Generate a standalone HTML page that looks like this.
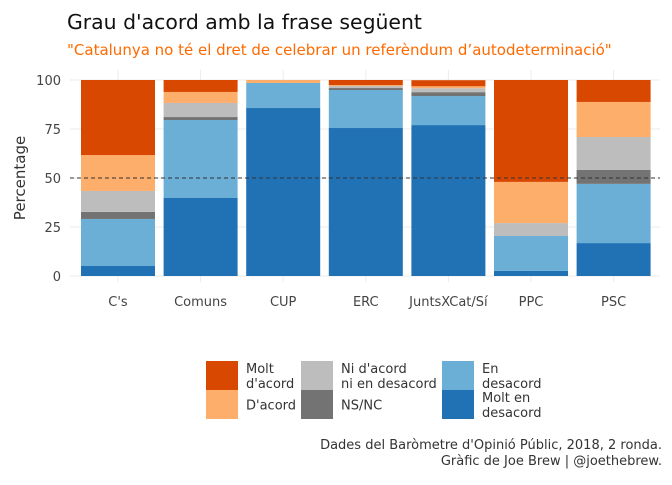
<!DOCTYPE html>
<html><head><meta charset="utf-8"><style>
body{margin:0;background:#fff}
svg text{font-family:"DejaVu Sans","Liberation Sans",sans-serif}
</style></head><body>
<svg id="chart" width="672" height="480" viewBox="0 0 672 480">
<text x="67" y="29" font-size="20.4" fill="#111">Grau d'acord amb la frase següent</text>
<text x="67" y="55" font-size="15" fill="#ff6a00">"Catalunya no té el dret de celebrar un referèndum d’autodeterminació"</text>
<g id="grid"></g>
<g id="bars"></g>
<line x1="70" x2="660" y1="178" y2="178" stroke="#333" stroke-dasharray="4,3" stroke-width="1"/>
<g id="axes"></g>
<text transform="translate(25,178) rotate(-90)" text-anchor="middle" font-size="15" fill="#333">Percentage</text>
<g id="legend"></g>
<text x="662" y="449" text-anchor="end" font-size="13" fill="#333">Dades del Baròmetre d'Opinió Públic, 2018, 2 ronda.</text>
<text x="662" y="465" text-anchor="end" font-size="13" fill="#333">Gràfic de Joe Brew | @joethebrew.</text>
</svg>
<script>
const categories=["C's","Comuns","CUP","ERC","JuntsXCat/Sí","PPC","PSC"];
const moltDesacord=[5.1,39.8,85.7,75.5,77,2.6,16.8];
const enDesacord=[24,39.8,12.8,19.4,14.8,17.8,30.2];
const nsnc=[3.6,1.5,0,1,2,0,7.1];
const niNi=[10.7,7.2,0,1,2,6.6,16.8];
const dacord=[18.3,5.6,1.5,0.5,1,21,17.9];
const moltDacord=[38.3,6.1,0,2.6,3.1,52,11.2];
const yTicks=[0,25,50,75,100];
const seriesNames=["molt-en-desacord","en-desacord","ns-nc","ni-ni","d-acord","molt-d-acord"];
const series=[moltDesacord,enDesacord,nsnc,niNi,dacord,moltDacord];
const colors=["#2171b5","#6baed6","#737373","#bdbdbd","#fdae6b","#d94801"];
const NS="http://www.w3.org/2000/svg";
const y=v=>276-v*1.96;
const step=82.6, x0=118;
const xc=i=>x0+i*step;
const bw=74;
function mk(t,a,p){const e=document.createElementNS(NS,t);for(const k in a)e.setAttribute(k,a[k]);p.appendChild(e);return e;}
const grid=document.getElementById('grid');
yTicks.forEach(t=>{
  const l=mk('line',{x1:70,x2:660,y1:y(t),y2:y(t),stroke:'#ebebeb','stroke-width':1},grid);
  
  
});
categories.forEach((c,i)=>{
  const l=mk('line',{x1:xc(i),x2:xc(i),y1:70,y2:282,stroke:'#ebebeb','stroke-width':1},grid);
  
  
});
const bars=document.getElementById('bars');
categories.forEach((c,i)=>{
  let cum=0;
  series.forEach((s,k)=>{
    const v=s[i]; if(v<=0)return;
    const r=mk('rect',{x:xc(i)-bw/2,y:y(cum+v),width:bw,height:v*1.96,fill:colors[k]},bars);
    
    
    cum+=v;
  });
});
const axes=document.getElementById('axes');
yTicks.forEach(t=>{
  const tx=mk('text',{x:61,y:y(t)+5,'text-anchor':'end','font-size':13,fill:'#444'},axes);
  tx.textContent=t;
  
  
});
categories.forEach((c,i)=>{
  const tx=mk('text',{x:xc(i),y:306,'text-anchor':'middle','font-size':13,fill:'#444'},axes);
  tx.textContent=c;
  
  
});
const legend=document.getElementById('legend');
const legItems=[
 {c:"#d94801",lines:["Molt","d'acord"],x:206,y:361},
 {c:"#fdae6b",lines:["D'acord"],x:206,y:390},
 {c:"#bdbdbd",lines:["Ni d'acord","ni en desacord"],x:301,y:361},
 {c:"#737373",lines:["NS/NC"],x:301,y:390},
 {c:"#6baed6",lines:["En","desacord"],x:442,y:361},
 {c:"#2171b5",lines:["Molt en","desacord"],x:442,y:390}];
legItems.forEach(it=>{
  const r=mk('rect',{x:it.x,y:it.y,width:32,height:29,fill:it.c},legend);
  
  
  const n=it.lines.length;
  it.lines.forEach((ln,j)=>{
    const t=mk('text',{x:it.x+40,y:it.y+14.5+(j-(n-1)/2)*15+5,'font-size':13,fill:'#333'},legend);
    t.textContent=ln;
    
    
  });
});
</script>
</body></html>
